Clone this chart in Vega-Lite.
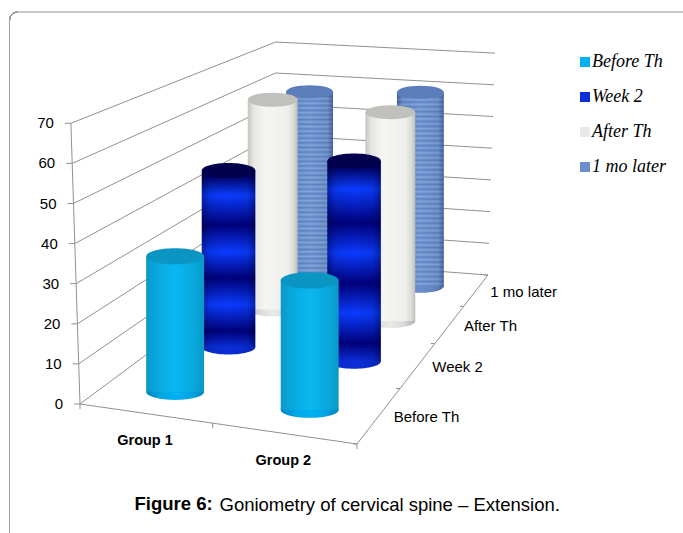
{
"$schema":"https://vega.github.io/schema/vega-lite/v6.json",
"width":683,"height":533,"padding":0,"autosize":{"type":"none"},"background":"white",
"view":{"stroke":null},
"title":{"text":"Figure 6:","anchor":"start","frame":"group","orient":"top","offset":0,"dx":134.5,"dy":528.5,"baseline":"alphabetic","font":"Liberation Sans","fontSize":18.5,"fontWeight":"bold","color":"#000000"},
"resolve":{"axis":{"x":"independent"}},
"data":{"values":[
{"kind":"bar","group":"Group 1","period":"1 mo later","g":0.5,"p":3.5,"value":58},
{"kind":"bar","group":"Group 2","period":"1 mo later","g":1.5,"p":3.5,"value":60},
{"kind":"bar","group":"Group 1","period":"After Th","g":0.5,"p":2.5,"value":62},
{"kind":"bar","group":"Group 2","period":"After Th","g":1.5,"p":2.5,"value":61},
{"kind":"bar","group":"Group 1","period":"Week 2","g":0.5,"p":1.5,"value":49},
{"kind":"bar","group":"Group 2","period":"Week 2","g":1.5,"p":1.5,"value":55},
{"kind":"bar","group":"Group 1","period":"Before Th","g":0.5,"p":0.5,"value":35},
{"kind":"bar","group":"Group 2","period":"Before Th","g":1.5,"p":0.5,"value":33},
{"kind":"grid","line":0,"seq":1,"g":0,"p":0,"value":0},{"kind":"grid","line":0,"seq":2,"g":0,"p":4,"value":0},{"kind":"grid","line":0,"seq":3,"g":2,"p":4,"value":0},
{"kind":"grid","line":10,"seq":1,"g":0,"p":0,"value":10},{"kind":"grid","line":10,"seq":2,"g":0,"p":4,"value":10},{"kind":"grid","line":10,"seq":3,"g":2,"p":4,"value":10},
{"kind":"grid","line":20,"seq":1,"g":0,"p":0,"value":20},{"kind":"grid","line":20,"seq":2,"g":0,"p":4,"value":20},{"kind":"grid","line":20,"seq":3,"g":2,"p":4,"value":20},
{"kind":"grid","line":30,"seq":1,"g":0,"p":0,"value":30},{"kind":"grid","line":30,"seq":2,"g":0,"p":4,"value":30},{"kind":"grid","line":30,"seq":3,"g":2,"p":4,"value":30},
{"kind":"grid","line":40,"seq":1,"g":0,"p":0,"value":40},{"kind":"grid","line":40,"seq":2,"g":0,"p":4,"value":40},{"kind":"grid","line":40,"seq":3,"g":2,"p":4,"value":40},
{"kind":"grid","line":50,"seq":1,"g":0,"p":0,"value":50},{"kind":"grid","line":50,"seq":2,"g":0,"p":4,"value":50},{"kind":"grid","line":50,"seq":3,"g":2,"p":4,"value":50},
{"kind":"grid","line":60,"seq":1,"g":0,"p":0,"value":60},{"kind":"grid","line":60,"seq":2,"g":0,"p":4,"value":60},{"kind":"grid","line":60,"seq":3,"g":2,"p":4,"value":60},
{"kind":"grid","line":70,"seq":1,"g":0,"p":0,"value":70},{"kind":"grid","line":70,"seq":2,"g":0,"p":4,"value":70},{"kind":"grid","line":70,"seq":3,"g":2,"p":4,"value":70},
{"kind":"grid","line":"axis","seq":1,"g":0,"p":0,"value":0},{"kind":"grid","line":"axis","seq":2,"g":0,"p":0,"value":70},
{"kind":"grid","line":"floor","seq":1,"g":0,"p":0,"value":0},{"kind":"grid","line":"floor","seq":2,"g":2,"p":0,"value":0},{"kind":"grid","line":"floor","seq":3,"g":2,"p":4,"value":0},
{"kind":"tickValue","g":0,"p":0,"value":0},{"kind":"tickValue","g":0,"p":0,"value":10},{"kind":"tickValue","g":0,"p":0,"value":20},{"kind":"tickValue","g":0,"p":0,"value":30},{"kind":"tickValue","g":0,"p":0,"value":40},{"kind":"tickValue","g":0,"p":0,"value":50},{"kind":"tickValue","g":0,"p":0,"value":60},{"kind":"tickValue","g":0,"p":0,"value":70},
{"kind":"tickGroup","g":0,"p":0,"value":0},{"kind":"tickGroup","g":1,"p":0,"value":0},{"kind":"tickGroup","g":2,"p":0,"value":0},
{"kind":"tickPeriod","g":2,"p":0,"value":0},{"kind":"tickPeriod","g":2,"p":1,"value":0},{"kind":"tickPeriod","g":2,"p":2,"value":0},{"kind":"tickPeriod","g":2,"p":3,"value":0},{"kind":"tickPeriod","g":2,"p":4,"value":0},
{"kind":"labelGroup","name":"Group 1","g":0.5,"p":0,"value":0},{"kind":"labelGroup","name":"Group 2","g":1.5,"p":0,"value":0},
{"kind":"labelPeriod","name":"Before Th","g":2,"p":0.5,"value":0},{"kind":"labelPeriod","name":"Week 2","g":2,"p":1.5,"value":0},{"kind":"labelPeriod","name":"After Th","g":2,"p":2.5,"value":0},{"kind":"labelPeriod","name":"1 mo later","g":2,"p":3.5,"value":0}
]},
"transform":[
{"calculate":"0.92*(datum.g/2)/(1-0.08*(datum.g/2))","as":"u"},
{"calculate":"1.464*(datum.p/4)/(1+0.464*(datum.p/4))","as":"w"},
{"calculate":"(1-datum.w)*((1-datum.u)*80+datum.u*357)+datum.w*((1-datum.u)*275+datum.u*488)","as":"baseX"},
{"calculate":"(1-datum.w)*((1-datum.u)*404+datum.u*444)+datum.w*((1-datum.u)*259+datum.u*275)","as":"baseY"},
{"calculate":"(1-datum.w)*((1-datum.u)*4.01+datum.u*4.1)+datum.w*((1-datum.u)*3.1+datum.u*3.17)","as":"unit"},
{"calculate":"(1-datum.w)*((1-datum.u)*-0.13+datum.u*0.1)+datum.w*((1-datum.u)*0.01+datum.u*0.1)","as":"tilt"},
{"calculate":"datum.baseX+datum.value*datum.tilt","as":"wallX"},
{"calculate":"datum.baseY-datum.value*datum.unit","as":"topY"},
{"calculate":"datum.baseY+4.5*(1-datum.w*datum.w*datum.w)","as":"barBase"},
{"calculate":"datum.barBase-datum.value*datum.unit","as":"barTop"},
{"calculate":"60.5-15*datum.w","as":"diameter"},
{"calculate":"datum.diameter*datum.diameter","as":"capSize"},
{"calculate":"datum.baseX+datum.value*datum.tilt/2","as":"barX"},
{"calculate":"datum.barX-datum.diameter/2","as":"barLeft"},
{"calculate":"datum.barX+datum.diameter/2","as":"barRight"},
{"calculate":"datum.wallX-6","as":"tickLeft"},
{"calculate":"datum.baseX-4","as":"tickBack"},
{"calculate":"datum.baseY+5","as":"tickDown"}
],
"layer":[
{"mark":{"type":"rect","filled":false,"stroke":"#a0a0a0","strokeWidth":1,"cornerRadius":8,"clip":true},
 "encoding":{
 "x":{"datum":9.5,"type":"quantitative","scale":{"domain":[0,683],"range":[0,683]},
  "axis":{"domain":false,"ticks":false,"labels":false,"grid":false,"title":"Goniometry of cervical spine – Extension.","titleX":219,"titleY":-23,"titleAlign":"left","titleAnchor":"start","titleBaseline":"alphabetic","titleFont":"Liberation Sans","titleFontSize":18.5,"titleFontWeight":"normal","titleColor":"#000000","titlePadding":0}},
 "x2":{"datum":760},
 "y":{"datum":12,"type":"quantitative","scale":{"domain":[0,533],"range":[0,533]},"axis":null},
 "y2":{"datum":600}}},
{"mark":{"type":"rule","stroke":"#cacaca","strokeWidth":2},
 "encoding":{
 "x":{"datum":18,"type":"quantitative","scale":{"domain":[0,683],"range":[0,683]},"axis":null},
 "x2":{"datum":683},
 "y":{"datum":12,"type":"quantitative","scale":{"domain":[0,533],"range":[0,533]},"axis":null}}},
{"transform":[{"filter":"datum.kind==='grid'"}],
 "mark":{"type":"line","stroke":"#909090","strokeWidth":1},
 "encoding":{
 "x":{"field":"wallX","type":"quantitative","scale":{"domain":[0,683],"range":[0,683]},"axis":null},
 "y":{"field":"topY","type":"quantitative","scale":{"domain":[0,533],"range":[0,533]},"axis":null},
 "detail":{"field":"line"},"order":{"field":"seq"}}},
{"transform":[{"filter":"datum.kind==='tickValue'"}],
 "mark":{"type":"rule","stroke":"#909090","strokeWidth":1},
 "encoding":{
 "x":{"field":"tickLeft","type":"quantitative","scale":{"domain":[0,683],"range":[0,683]},"axis":null},
 "x2":{"field":"wallX"},
 "y":{"field":"topY","type":"quantitative","scale":{"domain":[0,533],"range":[0,533]},"axis":null}}},
{"transform":[{"filter":"datum.kind==='tickGroup'"}],
 "mark":{"type":"rule","stroke":"#909090","strokeWidth":1},
 "encoding":{
 "x":{"field":"baseX","type":"quantitative","scale":{"domain":[0,683],"range":[0,683]},"axis":null},
 "y":{"field":"baseY","type":"quantitative","scale":{"domain":[0,533],"range":[0,533]},"axis":null},
 "y2":{"field":"tickDown"}}},
{"transform":[{"filter":"datum.kind==='tickPeriod'"}],
 "mark":{"type":"rule","stroke":"#909090","strokeWidth":1},
 "encoding":{
 "x":{"field":"tickBack","type":"quantitative","scale":{"domain":[0,683],"range":[0,683]},"axis":null},
 "x2":{"field":"baseX"},
 "y":{"field":"baseY","type":"quantitative","scale":{"domain":[0,533],"range":[0,533]},"axis":null}}},
{"transform":[{"filter":"datum.kind==='tickValue'"}],
 "mark":{"type":"text","align":"right","baseline":"middle","dx":-17,"dy":0,"font":"Liberation Sans","fontSize":15,"fill":"#000000"},
 "encoding":{
 "x":{"field":"wallX","type":"quantitative","scale":{"domain":[0,683],"range":[0,683]},"axis":null},
 "y":{"field":"topY","type":"quantitative","scale":{"domain":[0,533],"range":[0,533]},"axis":null},
 "text":{"field":"value","type":"quantitative"}}},
{"transform":[{"filter":"datum.kind==='labelGroup'"}],
 "mark":{"type":"text","align":"center","baseline":"middle","dy":28,"font":"Liberation Sans","fontSize":14.5,"fontWeight":"bold","fill":"#000000"},
 "encoding":{
 "x":{"field":"baseX","type":"quantitative","scale":{"domain":[0,683],"range":[0,683]},"axis":null},
 "y":{"field":"baseY","type":"quantitative","scale":{"domain":[0,533],"range":[0,533]},"axis":null},
 "text":{"field":"name","type":"nominal"}}},
{"transform":[{"filter":"datum.kind==='labelPeriod'"}],
 "mark":{"type":"text","align":"left","baseline":"middle","dx":14,"dy":2,"font":"Liberation Sans","fontSize":15,"fill":"#000000"},
 "encoding":{
 "x":{"field":"baseX","type":"quantitative","scale":{"domain":[0,683],"range":[0,683]},"axis":null},
 "y":{"field":"baseY","type":"quantitative","scale":{"domain":[0,533],"range":[0,533]},"axis":null},
 "text":{"field":"name","type":"nominal"}}},
{"transform":[{"filter":"datum.kind==='bar'"}],
 "mark":{"type":"point","filled":true,"opacity":1,"shape":"M-1,0C-1,0.16,-0.55,0.28,0,0.28C0.55,0.28,1,0.16,1,0C1,-0.16,0.55,-0.28,0,-0.28C-0.55,-0.28,-1,-0.16,-1,0Z"},
 "encoding":{
 "x":{"field":"barX","type":"quantitative","scale":{"domain":[0,683],"range":[0,683]},"axis":null},
 "y":{"field":"barBase","type":"quantitative","scale":{"domain":[0,533],"range":[0,533]},"axis":null},
 "size":{"field":"capSize","type":"quantitative","scale":null},
 "color":{"field":"period","type":"nominal","scale":{"domain":["Before Th","Week 2","After Th","1 mo later"],"range":["#00b0f0","#0a2ed8","#e9e9e7","#6a8ecc"]},
  "legend":{"title":null,"orient":"none","legendX":576,"legendY":53,"symbolType":"square","symbolSize":100,"symbolOpacity":1,"symbolStrokeWidth":0,"labelFont":"Liberation Serif","labelFontStyle":"italic","labelFontSize":18,"labelColor":"#000000","labelOffset":-2,"rowPadding":17,"labelLimit":200,"labelOverlap":false,"padding":0}}}},
{"transform":[{"filter":"datum.kind==='bar'"}],
 "mark":{"type":"point","filled":true,"opacity":1,"shape":"M-1,0C-1,0.16,-0.55,0.28,0,0.28C0.55,0.28,1,0.16,1,0C1,-0.16,0.55,-0.28,0,-0.28C-0.55,-0.28,-1,-0.16,-1,0Z",
  "fill":{"gradient":"linear","x1":0,"y1":0,"x2":1,"y2":0,"stops":[{"offset":0,"color":"rgba(0,0,40,0.25)"},{"offset":0.25,"color":"rgba(0,0,40,0.06)"},{"offset":0.5,"color":"rgba(0,0,40,0)"},{"offset":0.75,"color":"rgba(0,0,40,0.06)"},{"offset":1,"color":"rgba(0,0,40,0.25)"}]}},
 "encoding":{
 "x":{"field":"barX","type":"quantitative","scale":{"domain":[0,683],"range":[0,683]},"axis":null},
 "y":{"field":"barBase","type":"quantitative","scale":{"domain":[0,533],"range":[0,533]},"axis":null},
 "size":{"field":"capSize","type":"quantitative","scale":null}}},

{"transform":[{"filter":"datum.kind==='bar' && datum.period==='1 mo later'"}],
 "mark":{"type":"rect","fill":{"gradient":"linear","x1":0,"y1":0,"x2":0,"y2":1,"stops":[
  {"offset":0,"color":"#5f85c4"},{"offset":0.0125,"color":"#85a8dc"},{"offset":0.025,"color":"#5f85c4"},{"offset":0.0375,"color":"#85a8dc"},{"offset":0.05,"color":"#5f85c4"},{"offset":0.0625,"color":"#85a8dc"},{"offset":0.075,"color":"#5f85c4"},{"offset":0.0875,"color":"#85a8dc"},{"offset":0.1,"color":"#5f85c4"},{"offset":0.1125,"color":"#85a8dc"},
  {"offset":0.125,"color":"#5f85c4"},{"offset":0.1375,"color":"#85a8dc"},{"offset":0.15,"color":"#5f85c4"},{"offset":0.1625,"color":"#85a8dc"},{"offset":0.175,"color":"#5f85c4"},{"offset":0.1875,"color":"#85a8dc"},{"offset":0.2,"color":"#5f85c4"},{"offset":0.2125,"color":"#85a8dc"},{"offset":0.225,"color":"#5f85c4"},{"offset":0.2375,"color":"#85a8dc"},
  {"offset":0.25,"color":"#5f85c4"},{"offset":0.2625,"color":"#85a8dc"},{"offset":0.275,"color":"#5f85c4"},{"offset":0.2875,"color":"#85a8dc"},{"offset":0.3,"color":"#5f85c4"},{"offset":0.3125,"color":"#85a8dc"},{"offset":0.325,"color":"#5f85c4"},{"offset":0.3375,"color":"#85a8dc"},{"offset":0.35,"color":"#5f85c4"},{"offset":0.3625,"color":"#85a8dc"},
  {"offset":0.375,"color":"#5f85c4"},{"offset":0.3875,"color":"#85a8dc"},{"offset":0.4,"color":"#5f85c4"},{"offset":0.4125,"color":"#85a8dc"},{"offset":0.425,"color":"#5f85c4"},{"offset":0.4375,"color":"#85a8dc"},{"offset":0.45,"color":"#5f85c4"},{"offset":0.4625,"color":"#85a8dc"},{"offset":0.475,"color":"#5f85c4"},{"offset":0.4875,"color":"#85a8dc"},
  {"offset":0.5,"color":"#5f85c4"},{"offset":0.5125,"color":"#85a8dc"},{"offset":0.525,"color":"#5f85c4"},{"offset":0.5375,"color":"#85a8dc"},{"offset":0.55,"color":"#5f85c4"},{"offset":0.5625,"color":"#85a8dc"},{"offset":0.575,"color":"#5f85c4"},{"offset":0.5875,"color":"#85a8dc"},{"offset":0.6,"color":"#5f85c4"},{"offset":0.6125,"color":"#85a8dc"},
  {"offset":0.625,"color":"#5f85c4"},{"offset":0.6375,"color":"#85a8dc"},{"offset":0.65,"color":"#5f85c4"},{"offset":0.6625,"color":"#85a8dc"},{"offset":0.675,"color":"#5f85c4"},{"offset":0.6875,"color":"#85a8dc"},{"offset":0.7,"color":"#5f85c4"},{"offset":0.7125,"color":"#85a8dc"},{"offset":0.725,"color":"#5f85c4"},{"offset":0.7375,"color":"#85a8dc"},
  {"offset":0.75,"color":"#5f85c4"},{"offset":0.7625,"color":"#85a8dc"},{"offset":0.775,"color":"#5f85c4"},{"offset":0.7875,"color":"#85a8dc"},{"offset":0.8,"color":"#5f85c4"},{"offset":0.8125,"color":"#85a8dc"},{"offset":0.825,"color":"#5f85c4"},{"offset":0.8375,"color":"#85a8dc"},{"offset":0.85,"color":"#5f85c4"},{"offset":0.8625,"color":"#85a8dc"},
  {"offset":0.875,"color":"#5f85c4"},{"offset":0.8875,"color":"#85a8dc"},{"offset":0.9,"color":"#5f85c4"},{"offset":0.9125,"color":"#85a8dc"},{"offset":0.925,"color":"#5f85c4"},{"offset":0.9375,"color":"#85a8dc"},{"offset":0.95,"color":"#5f85c4"},{"offset":0.9625,"color":"#85a8dc"},{"offset":0.975,"color":"#5f85c4"},{"offset":0.9875,"color":"#85a8dc"},{"offset":1,"color":"#5f85c4"}]}},
 "encoding":{
 "x":{"field":"barLeft","type":"quantitative","scale":{"domain":[0,683],"range":[0,683]},"axis":null},"x2":{"field":"barRight"},
 "y":{"field":"barTop","type":"quantitative","scale":{"domain":[0,533],"range":[0,533]},"axis":null},"y2":{"field":"barBase"}}},
{"transform":[{"filter":"datum.kind==='bar' && datum.period==='1 mo later'"}],
 "mark":{"type":"rect","fill":{"gradient":"linear","x1":0,"y1":0,"x2":1,"y2":0,"stops":[{"offset":0,"color":"rgba(20,40,90,0.45)"},{"offset":0.12,"color":"rgba(20,40,90,0.1)"},{"offset":0.5,"color":"rgba(20,40,90,0)"},{"offset":0.88,"color":"rgba(20,40,90,0.1)"},{"offset":1,"color":"rgba(20,40,90,0.45)"}]}},
 "encoding":{
 "x":{"field":"barLeft","type":"quantitative","scale":{"domain":[0,683],"range":[0,683]},"axis":null},"x2":{"field":"barRight"},
 "y":{"field":"barTop","type":"quantitative","scale":{"domain":[0,533],"range":[0,533]},"axis":null},"y2":{"field":"barBase"}}},
{"transform":[{"filter":"datum.kind==='bar' && datum.period==='1 mo later'"}],
 "mark":{"type":"point","filled":true,"opacity":1,"fill":"#5b7eba","shape":"M-1,0C-1,0.16,-0.55,0.28,0,0.28C0.55,0.28,1,0.16,1,0C1,-0.16,0.55,-0.28,0,-0.28C-0.55,-0.28,-1,-0.16,-1,0Z"},
 "encoding":{
 "x":{"field":"barX","type":"quantitative","scale":{"domain":[0,683],"range":[0,683]},"axis":null},
 "y":{"field":"barTop","type":"quantitative","scale":{"domain":[0,533],"range":[0,533]},"axis":null},
 "size":{"field":"capSize","type":"quantitative","scale":null}}},

{"transform":[{"filter":"datum.kind==='bar' && datum.period==='After Th'"}],
 "mark":{"type":"rect","fill":{"gradient":"linear","x1":0,"y1":0,"x2":1,"y2":0,"stops":[{"offset":0,"color":"#c4c4c0"},{"offset":0.12,"color":"#e6e6e3"},{"offset":0.35,"color":"#f5f5f3"},{"offset":0.8,"color":"#efefec"},{"offset":0.93,"color":"#d8d8d4"},{"offset":1,"color":"#bcbcb8"}]}},
 "encoding":{
 "x":{"field":"barLeft","type":"quantitative","scale":{"domain":[0,683],"range":[0,683]},"axis":null},"x2":{"field":"barRight"},
 "y":{"field":"barTop","type":"quantitative","scale":{"domain":[0,533],"range":[0,533]},"axis":null},"y2":{"field":"barBase"}}},
{"transform":[{"filter":"datum.kind==='bar' && datum.period==='After Th'"}],
 "mark":{"type":"point","filled":true,"opacity":1,"fill":"#c0c0bc","shape":"M-1,0C-1,0.16,-0.55,0.28,0,0.28C0.55,0.28,1,0.16,1,0C1,-0.16,0.55,-0.28,0,-0.28C-0.55,-0.28,-1,-0.16,-1,0Z"},
 "encoding":{
 "x":{"field":"barX","type":"quantitative","scale":{"domain":[0,683],"range":[0,683]},"axis":null},
 "y":{"field":"barTop","type":"quantitative","scale":{"domain":[0,533],"range":[0,533]},"axis":null},
 "size":{"field":"capSize","type":"quantitative","scale":null}}},

{"transform":[{"filter":"datum.kind==='bar' && datum.period==='Week 2'"}],
 "mark":{"type":"rect","fill":{"gradient":"linear","x1":0,"y1":0,"x2":0,"y2":1,"stops":[{"offset":0,"color":"#000050"},{"offset":0.03,"color":"#000060"},{"offset":0.14,"color":"#0a3cff"},{"offset":0.31,"color":"#00007a"},{"offset":0.46,"color":"#0a3cff"},{"offset":0.61,"color":"#00007a"},{"offset":0.76,"color":"#0a3cff"},{"offset":0.91,"color":"#00007a"},{"offset":1,"color":"#0a2ed8"}]}},
 "encoding":{
 "x":{"field":"barLeft","type":"quantitative","scale":{"domain":[0,683],"range":[0,683]},"axis":null},"x2":{"field":"barRight"},
 "y":{"field":"barTop","type":"quantitative","scale":{"domain":[0,533],"range":[0,533]},"axis":null},"y2":{"field":"barBase"}}},
{"transform":[{"filter":"datum.kind==='bar' && datum.period==='Week 2'"}],
 "mark":{"type":"rect","fill":{"gradient":"linear","x1":0,"y1":0,"x2":1,"y2":0,"stops":[{"offset":0,"color":"rgba(0,0,40,0.4)"},{"offset":0.15,"color":"rgba(0,0,40,0.08)"},{"offset":0.5,"color":"rgba(0,0,40,0)"},{"offset":0.85,"color":"rgba(0,0,40,0.08)"},{"offset":1,"color":"rgba(0,0,40,0.4)"}]}},
 "encoding":{
 "x":{"field":"barLeft","type":"quantitative","scale":{"domain":[0,683],"range":[0,683]},"axis":null},"x2":{"field":"barRight"},
 "y":{"field":"barTop","type":"quantitative","scale":{"domain":[0,533],"range":[0,533]},"axis":null},"y2":{"field":"barBase"}}},
{"transform":[{"filter":"datum.kind==='bar' && datum.period==='Week 2'"}],
 "mark":{"type":"point","filled":true,"opacity":1,"fill":"#00004c","shape":"M-1,0C-1,0.16,-0.55,0.28,0,0.28C0.55,0.28,1,0.16,1,0C1,-0.16,0.55,-0.28,0,-0.28C-0.55,-0.28,-1,-0.16,-1,0Z"},
 "encoding":{
 "x":{"field":"barX","type":"quantitative","scale":{"domain":[0,683],"range":[0,683]},"axis":null},
 "y":{"field":"barTop","type":"quantitative","scale":{"domain":[0,533],"range":[0,533]},"axis":null},
 "size":{"field":"capSize","type":"quantitative","scale":null}}},

{"transform":[{"filter":"datum.kind==='bar' && datum.period==='Before Th'"}],
 "mark":{"type":"rect","fill":{"gradient":"linear","x1":0,"y1":0,"x2":1,"y2":0,"stops":[{"offset":0,"color":"#0a98c6"},{"offset":0.15,"color":"#08a6da"},{"offset":0.5,"color":"#0bb8f2"},{"offset":0.85,"color":"#08a6da"},{"offset":1,"color":"#0a98c6"}]}},
 "encoding":{
 "x":{"field":"barLeft","type":"quantitative","scale":{"domain":[0,683],"range":[0,683]},"axis":null},"x2":{"field":"barRight"},
 "y":{"field":"barTop","type":"quantitative","scale":{"domain":[0,533],"range":[0,533]},"axis":null},"y2":{"field":"barBase"}}},
{"transform":[{"filter":"datum.kind==='bar' && datum.period==='Before Th'"}],
 "mark":{"type":"point","filled":true,"opacity":1,"fill":"#0b95c2","shape":"M-1,0C-1,0.16,-0.55,0.28,0,0.28C0.55,0.28,1,0.16,1,0C1,-0.16,0.55,-0.28,0,-0.28C-0.55,-0.28,-1,-0.16,-1,0Z"},
 "encoding":{
 "x":{"field":"barX","type":"quantitative","scale":{"domain":[0,683],"range":[0,683]},"axis":null},
 "y":{"field":"barTop","type":"quantitative","scale":{"domain":[0,533],"range":[0,533]},"axis":null},
 "size":{"field":"capSize","type":"quantitative","scale":null}}}
]}
